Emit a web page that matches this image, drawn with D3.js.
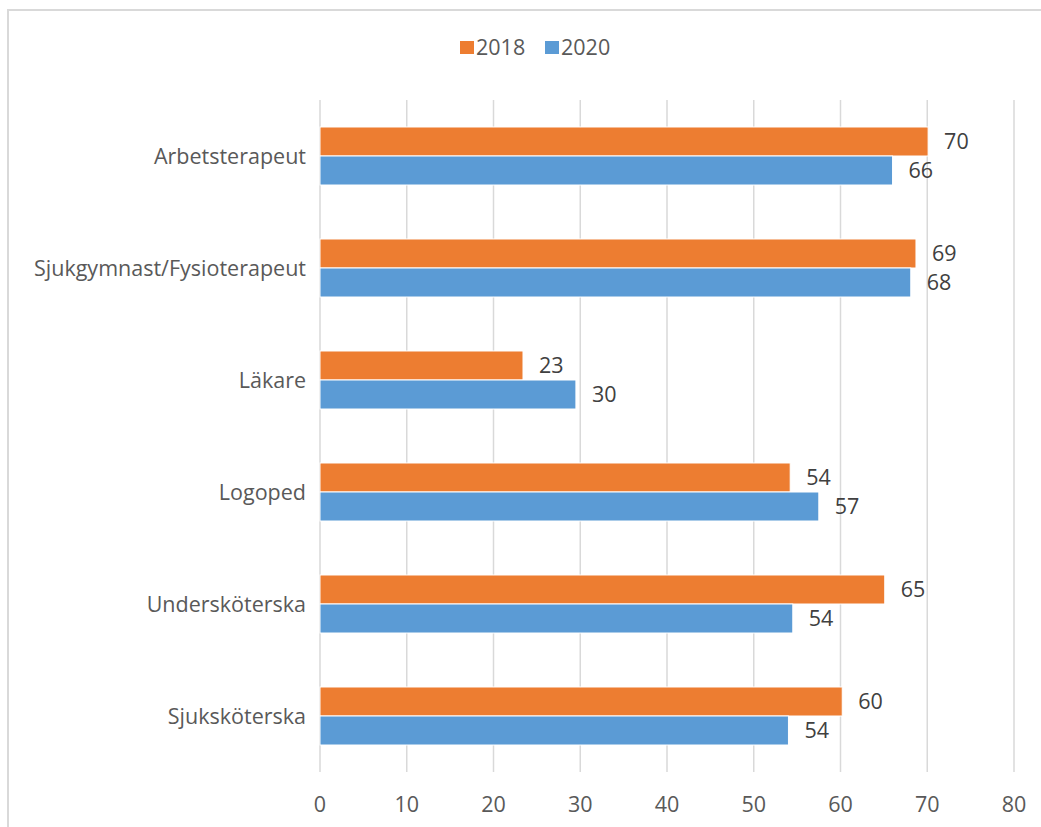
<!DOCTYPE html>
<html lang="sv">
<head>
<meta charset="utf-8">
<title>2018 / 2020</title>
<script src="https://d3js.org/d3.v7.min.js"></script>
<style>
  body { margin: 0; background: #fff; }
  svg text { font-family: "Open Sans", "Noto Sans", sans-serif; }
</style>
</head>
<body>
<div id="chart"></div>
<script>
  // data
  var categories = ["Arbetsterapeut", "Sjukgymnast/Fysioterapeut", "Läkare", "Logoped", "Undersköterska", "Sjuksköterska"];
  var series = ["2018", "2020"];
  var values2018 = [70.1, 68.7, 23.4, 54.2, 65.1, 60.2];
  var values2020 = [66.0, 68.1, 29.5, 57.5, 54.5, 54.0];
  var labels2018 = [70, 69, 23, 54, 65, 60];
  var labels2020 = [66, 68, 30, 57, 54, 54];
  var xTicks = [0, 10, 20, 30, 40, 50, 60, 70, 80];
  var colors = ["#ED7D31", "#5B9BD5"];

  var width = 1041, height = 827,
      plot = {left: 320, right: 1014, top: 100, bottom: 772},
      fontSize = 21.5;

  var svg = d3.select("#chart").append("svg")
      .attr("width", width)
      .attr("height", height);

  // outer frame (only left and top edges visible in the crop)
  svg.append("path")
      .attr("d", "M8,827 L8,10 L1041,10")
      .attr("fill", "none")
      .attr("stroke", "#d9d9d9")
      .attr("stroke-width", 2);

  var x = d3.scaleLinear().domain([0, 80]).range([plot.left, plot.right]);
  var y = d3.scaleBand().domain(categories).range([plot.top, plot.bottom])
      .paddingInner(0.482).paddingOuter(0.241);
  var ySub = d3.scaleBand().domain(series).range([0, y.bandwidth()]);

  // gridlines
  svg.append("g").selectAll("line")
      .data(xTicks)
      .enter().append("line")
      .attr("x1", function(d) { return x(d); })
      .attr("x2", function(d) { return x(d); })
      .attr("y1", plot.top)
      .attr("y2", plot.bottom)
      .attr("stroke", "#d9d9d9")
      .attr("stroke-width", 1.5);

  // x tick labels
  svg.append("g").selectAll("text")
      .data(xTicks)
      .enter().append("text")
      .attr("x", function(d) { return x(d); })
      .attr("y", 804)
      .attr("dy", "0.35em")
      .attr("text-anchor", "middle")
      .attr("font-size", fontSize)
      .attr("fill", "#595959")
      .text(function(d) { return d; });

  // category labels
  svg.append("g").selectAll("text")
      .data(categories)
      .enter().append("text")
      .attr("x", 306)
      .attr("y", function(d) { return y(d) + y.bandwidth() / 2; })
      .attr("dy", "0.35em")
      .attr("text-anchor", "end")
      .attr("font-size", fontSize)
      .attr("fill", "#595959")
      .text(function(d) { return d; });

  var rows = categories.map(function(c, i) {
    return [
      {cat: c, s: "2018", v: values2018[i], lab: labels2018[i], col: colors[0]},
      {cat: c, s: "2020", v: values2020[i], lab: labels2020[i], col: colors[1]}
    ];
  });
  var flat = [].concat.apply([], rows);

  var bars = svg.append("g");
  bars.selectAll("rect")
      .data(flat)
      .enter().append("rect")
      .attr("x", x(0))
      .attr("y", function(d) { return y(d.cat) + ySub(d.s); })
      .attr("width", function(d) { return x(d.v) - x(0); })
      .attr("height", ySub.bandwidth())
      .attr("fill", function(d) { return d.col; })
      .attr("stroke", "#fff")
      .attr("stroke-width", 1);

  bars.selectAll("text")
      .data(flat)
      .enter().append("text")
      .attr("x", function(d) { return x(d.v) + 16; })
      .attr("y", function(d) { return y(d.cat) + ySub(d.s) + ySub.bandwidth() / 2; })
      .attr("dy", "0.35em")
      .attr("font-size", fontSize)
      .attr("fill", "#404040")
      .text(function(d) { return d.lab; });

  // legend
  var legend = svg.append("g");
  var legendX = [460, 545];
  series.forEach(function(s, i) {
    legend.append("rect")
        .attr("x", legendX[i])
        .attr("y", 41)
        .attr("width", 14)
        .attr("height", 13)
        .attr("fill", colors[i]);
    legend.append("text")
        .attr("x", legendX[i] + 16)
        .attr("y", 47.5)
        .attr("dy", "0.35em")
        .attr("font-size", fontSize)
        .attr("fill", "#595959")
        .text(s);
  });
</script>
</body>
</html>
